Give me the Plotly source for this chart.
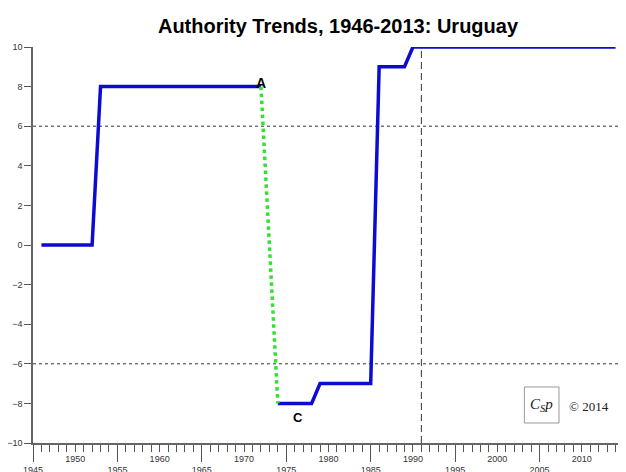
import plotly.graph_objects as go

# ---- data ----
years = list(range(1946, 2015))
authority = ([0] * 7            # 1946-1952
             + [8] * 20         # 1953-1972
             + [None]           # 1973 (transition)
             + [-8] * 5         # 1974-1978
             + [-7] * 7         # 1979-1985
             + [9] * 4          # 1986-1989
             + [10] * 25)       # 1990-2014
trans_years = [1972, 1974]
trans_values = [8, -8]
major_ticks = list(range(1945, 2016, 10))
mid_ticks = list(range(1950, 2011, 10))
y_ticks = list(range(-10, 11, 2))
ref_lines_y = [6, -6]
ref_line_x = 1991
title_text = "Authority Trends, 1946-2013: Uruguay"

W, H = 626, 472

fig = go.Figure()
fig.add_trace(go.Scatter(x=years, y=authority, mode="lines",
                         line=dict(color="#0b0bd1", width=3.5),
                         connectgaps=False, cliponaxis=False, hoverinfo="skip"))
fig.add_trace(go.Scatter(x=trans_years, y=trans_values, mode="lines",
                         line=dict(color="#33e033", width=3.5, dash="dot"),
                         cliponaxis=False, hoverinfo="skip"))
# dummy trace to register the second x axis
fig.add_trace(go.Scatter(x=[mid_ticks[0]], y=[None], xaxis="x2", yaxis="y",
                         mode="lines", showlegend=False, hoverinfo="skip"))

for yv in ref_lines_y:
    fig.add_shape(type="line", xref="paper", x0=0, x1=1, yref="y", y0=yv, y1=yv,
                  line=dict(color="#333", width=1, dash="dot"), layer="below")
fig.add_shape(type="line", xref="x", x0=ref_line_x, x1=ref_line_x, yref="y", y0=-10, y1=10,
              line=dict(color="#333", width=1, dash="7px,4px"), layer="below")

# CSP logo box
fig.add_shape(type="rect", xref="x", yref="y", x0=2003.2, x1=2007.3, y0=-8.99, y1=-7.17,
              line=dict(color="#999", width=1), fillcolor="white")
fig.add_annotation(x=2005.2, y=-8.08, xref="x", yref="y", showarrow=False,
                   text="<i>C<sub>S</sub>p</i>",
                   font=dict(family="Liberation Serif", size=15, color="#222"))
fig.add_annotation(x=2010.9, y=-8.18, xref="x", yref="y", showarrow=False,
                   text="© 2014",
                   font=dict(family="Liberation Serif", size=13, color="#222"))

fig.add_annotation(x=1972, y=8.18, xref="x", yref="y", showarrow=False, text="<b>A</b>",
                   font=dict(family="Arial, Liberation Sans", size=14, color="black"))
fig.add_annotation(x=1976.4, y=-8.7, xref="x", yref="y", showarrow=False, text="<b>C</b>",
                   font=dict(family="Arial, Liberation Sans", size=13, color="black"))

tickfont = dict(family="Arial, Liberation Sans", size=9, color="#333")

fig.update_layout(
    width=W, height=H,
    margin=dict(l=25, r=10, t=39, b=37, autoexpand=False),
    paper_bgcolor="white", plot_bgcolor="white",
    showlegend=False,
    title=dict(text="<b>" + title_text + "</b>", x=330 / W, xanchor="center",
               xref="container", y=1 - 18 / H, yanchor="middle", yref="container",
               font=dict(family="Arial, Liberation Sans", size=20, color="black")),
    xaxis=dict(range=[1945, 2015], tickvals=major_ticks, ticks="outside", ticklen=17,
               tickcolor="#555", tickwidth=1, showline=True, linecolor="#666", linewidth=1.5,
               showgrid=False, zeroline=False, tickfont=tickfont, automargin=False,
               minor=dict(dtick=1, tick0=1945, ticks="outside", ticklen=7, tickcolor="#555",
                          showgrid=False)),
    xaxis2=dict(range=[1945, 2015], overlaying="x", anchor="y", side="bottom",
                tickvals=mid_ticks, ticks="outside", ticklen=7, tickcolor="#555",
                showline=False, showgrid=False, zeroline=False, tickfont=tickfont,
                automargin=False),
    yaxis=dict(range=[-10, 10], tickvals=y_ticks, ticks="outside", ticklen=7,
               tickcolor="#555", showline=True, linecolor="#666", linewidth=1.5,
               mirror=True, showgrid=False, zeroline=False, tickfont=tickfont,
               automargin=False),
)

fig.write_html("out.html")
